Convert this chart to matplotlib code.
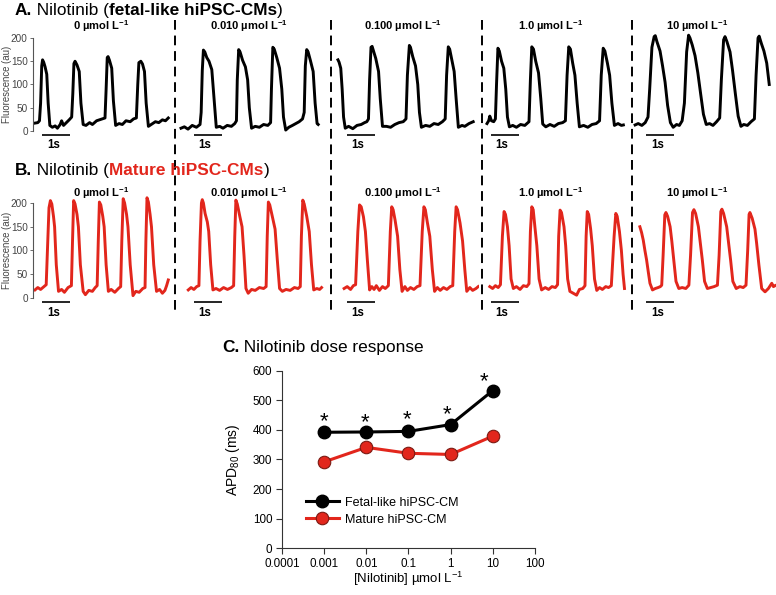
import numpy as np
import matplotlib.pyplot as plt
from matplotlib.lines import Line2D
from matplotlib.ticker import NullLocator
from matplotlib.transforms import offset_copy

plt.rcParams['font.family'] = ['Liberation Sans', 'DejaVu Sans']
plt.rcParams['mathtext.default'] = 'regular'

W, H = 776, 595
RED = '#E2261C'

dose_titles = ['0 µmol L$^{-1}$', '0.010 µmol L$^{-1}$', '0.100 µmol L$^{-1}$',
               '1.0 µmol L$^{-1}$', '10 µmol L$^{-1}$']

# optical traces, (time s, fluorescence au)
fetal_0 = [(0, 17), (0.1, 18), (0.16, 22), (0.2, 60), (0.24, 140), (0.27, 153), (0.31, 148), (0.36, 138),
           (0.42, 122), (0.47, 60), (0.53, 12), (0.62, 8), (0.72, 11), (0.8, 6), (0.9, 14), (0.95, 22),
           (1.02, 12), (1.12, 18), (1.22, 24), (1.31, 30), (1.35, 80), (1.39, 145), (1.43, 150), (1.5, 142),
           (1.58, 128), (1.64, 60), (1.72, 14), (1.82, 12), (1.95, 18), (2.05, 14), (2.2, 22), (2.35, 25),
           (2.5, 28), (2.54, 90), (2.58, 158), (2.61, 160), (2.66, 152), (2.74, 135), (2.8, 65), (2.88, 12),
           (3.0, 16), (3.12, 14), (3.25, 22), (3.4, 20), (3.52, 26), (3.62, 28), (3.67, 100), (3.71, 147),
           (3.78, 150), (3.84, 144), (3.91, 128), (3.97, 60), (4.05, 10), (4.15, 14), (4.3, 20), (4.42, 18),
           (4.55, 24), (4.66, 22), (4.76, 28)]
fetal_001 = [(0, 6), (0.12, 9), (0.25, 4), (0.4, 12), (0.55, 8), (0.68, 14), (0.72, 40), (0.76, 130),
             (0.8, 174), (0.85, 170), (0.92, 158), (1.0, 150), (1.1, 132), (1.18, 70), (1.26, 8), (1.38, 10),
             (1.5, 6), (1.65, 12), (1.8, 10), (1.92, 16), (1.98, 22), (2.01, 110), (2.06, 175), (2.11, 170),
             (2.2, 152), (2.3, 138), (2.38, 110), (2.44, 50), (2.52, 6), (2.65, 10), (2.8, 8), (2.95, 14),
             (3.1, 12), (3.2, 18), (3.23, 90), (3.28, 180), (3.33, 176), (3.42, 158), (3.52, 135), (3.6, 90),
             (3.66, 30), (3.74, 2), (3.85, 8), (3.98, 12), (4.1, 16), (4.22, 20), (4.34, 26), (4.4, 40),
             (4.44, 140), (4.49, 175), (4.54, 170), (4.62, 152), (4.72, 128), (4.79, 60), (4.86, 16), (4.9, 14)]
fetal_01 = [(0.07, 153), (0.11, 148), (0.17, 135), (0.22, 90), (0.27, 30), (0.33, 6), (0.45, 10), (0.6, 5),
            (0.75, 12), (0.9, 14), (1.02, 18), (1.1, 20), (1.16, 26), (1.2, 110), (1.25, 180), (1.29, 182),
            (1.34, 172), (1.42, 156), (1.52, 128), (1.58, 70), (1.66, 10), (1.8, 10), (1.95, 8), (2.1, 14),
            (2.25, 18), (2.4, 20), (2.5, 26), (2.55, 120), (2.62, 184), (2.66, 180), (2.74, 160), (2.84, 140),
            (2.92, 100), (2.98, 40), (3.05, 8), (3.2, 12), (3.35, 10), (3.5, 16), (3.65, 14), (3.8, 20),
            (3.9, 26), (3.95, 120), (4.01, 181), (4.06, 176), (4.13, 155), (4.22, 128), (4.29, 70), (4.37, 8),
            (4.5, 12), (4.6, 10), (4.75, 16), (4.9, 20)]
fetal_1 = [(0, 16), (0.06, 22), (0.1, 32), (0.16, 22), (0.24, 20), (0.3, 26), (0.34, 100), (0.39, 178),
           (0.44, 172), (0.52, 150), (0.6, 135), (0.67, 90), (0.73, 30), (0.8, 9), (0.92, 12), (1.05, 8),
           (1.2, 14), (1.35, 12), (1.5, 20), (1.55, 110), (1.6, 181), (1.66, 176), (1.74, 150), (1.84, 125),
           (1.92, 70), (1.99, 15), (2.1, 9), (2.25, 14), (2.4, 10), (2.55, 16), (2.7, 18), (2.8, 22),
           (2.86, 120), (2.92, 181), (2.98, 176), (3.06, 146), (3.14, 120), (3.22, 60), (3.3, 9), (3.45, 12),
           (3.6, 8), (3.75, 14), (3.9, 16), (4.02, 22), (4.08, 120), (4.15, 178), (4.21, 172), (4.3, 146),
           (4.38, 120), (4.46, 60), (4.55, 12), (4.68, 16), (4.8, 12), (4.87, 13)]
fetal_10 = [(0.04, 13), (0.15, 16), (0.28, 12), (0.4, 18), (0.5, 30), (0.56, 90), (0.64, 180), (0.72, 203),
            (0.76, 205), (0.82, 192), (0.93, 172), (1.02, 140), (1.11, 105), (1.2, 55), (1.3, 18), (1.4, 8),
            (1.52, 14), (1.62, 12), (1.72, 22), (1.8, 60), (1.88, 170), (1.95, 206), (2.0, 200), (2.08, 185),
            (2.18, 162), (2.28, 125), (2.38, 80), (2.48, 36), (2.58, 14), (2.7, 16), (2.82, 12), (2.95, 20),
            (3.06, 28), (3.12, 110), (3.2, 196), (3.25, 203), (3.32, 192), (3.43, 170), (3.52, 130),
            (3.62, 80), (3.72, 32), (3.82, 10), (3.92, 14), (4.05, 12), (4.18, 20), (4.3, 26), (4.36, 120),
            (4.43, 200), (4.47, 204), (4.55, 188), (4.64, 172), (4.74, 146), (4.83, 100)]

mature_0 = [(0, 17), (0.1, 22), (0.2, 18), (0.32, 24), (0.4, 28), (0.45, 110), (0.5, 190), (0.55, 205),
            (0.6, 198), (0.66, 172), (0.7, 150), (0.76, 70), (0.84, 14), (0.95, 18), (1.05, 12), (1.18, 22),
            (1.3, 26), (1.34, 120), (1.38, 205), (1.43, 198), (1.5, 176), (1.55, 150), (1.62, 70), (1.72, 14),
            (1.8, 7), (1.92, 16), (2.05, 14), (2.15, 22), (2.22, 26), (2.26, 120), (2.3, 202), (2.35, 196),
            (2.42, 172), (2.47, 150), (2.54, 70), (2.62, 14), (2.72, 18), (2.85, 12), (2.98, 20), (3.06, 24),
            (3.1, 120), (3.15, 209), (3.2, 200), (3.27, 176), (3.32, 150), (3.4, 70), (3.5, 5), (3.6, 14),
            (3.72, 12), (3.85, 20), (3.93, 22), (3.96, 120), (4.0, 211), (4.05, 202), (4.11, 176), (4.16, 150),
            (4.24, 70), (4.34, 14), (4.45, 18), (4.55, 10), (4.64, 16), (4.7, 26), (4.76, 38)]
mature_001 = [(0.26, 17), (0.36, 22), (0.46, 18), (0.56, 24), (0.64, 26), (0.68, 120), (0.73, 200),
              (0.76, 207), (0.8, 200), (0.86, 178), (0.94, 160), (0.99, 140), (1.06, 70), (1.14, 17),
              (1.25, 20), (1.38, 16), (1.52, 22), (1.66, 18), (1.8, 22), (1.88, 26), (1.92, 130), (1.96, 206),
              (2.01, 198), (2.1, 172), (2.18, 150), (2.25, 90), (2.32, 20), (2.4, 10), (2.52, 18), (2.65, 16),
              (2.8, 22), (2.95, 20), (3.04, 24), (3.08, 130), (3.12, 202), (3.17, 196), (3.26, 172),
              (3.36, 145), (3.44, 80), (3.52, 20), (3.62, 14), (3.75, 18), (3.9, 16), (4.05, 22), (4.18, 20),
              (4.26, 24), (4.3, 130), (4.35, 206), (4.4, 198), (4.49, 172), (4.58, 140), (4.66, 70),
              (4.74, 17), (4.85, 20), (4.95, 18), (5.02, 22)]
mature_01 = [(0.29, 20), (0.4, 24), (0.52, 18), (0.62, 26), (0.7, 28), (0.78, 140), (0.84, 196), (0.9, 192),
             (0.98, 171), (1.05, 140), (1.12, 80), (1.2, 17), (1.28, 24), (1.36, 18), (1.44, 26), (1.55, 16),
             (1.66, 24), (1.76, 20), (1.87, 26), (1.94, 140), (1.99, 192), (2.04, 186), (2.11, 164),
             (2.2, 130), (2.28, 60), (2.36, 14), (2.46, 24), (2.55, 16), (2.66, 22), (2.78, 18), (2.9, 24),
             (3.0, 26), (3.08, 140), (3.14, 192), (3.19, 186), (3.26, 160), (3.35, 130), (3.44, 60),
             (3.52, 14), (3.62, 22), (3.72, 16), (3.84, 22), (3.96, 18), (4.08, 24), (4.17, 26), (4.24, 140),
             (4.29, 192), (4.34, 186), (4.43, 158), (4.52, 120), (4.6, 60), (4.67, 14), (4.78, 22),
             (4.88, 16), (5.0, 20), (5.08, 24)]
mature_1 = [(0.1, 24), (0.2, 20), (0.3, 26), (0.4, 22), (0.48, 28), (0.55, 130), (0.61, 182), (0.66, 176),
            (0.73, 150), (0.79, 110), (0.86, 40), (0.94, 20), (1.05, 24), (1.18, 18), (1.3, 26), (1.42, 24),
            (1.5, 30), (1.55, 140), (1.6, 192), (1.65, 186), (1.71, 150), (1.78, 110), (1.86, 40), (1.95, 17),
            (2.08, 22), (2.2, 18), (2.32, 24), (2.44, 22), (2.52, 28), (2.56, 130), (2.61, 185), (2.66, 180),
            (2.75, 150), (2.81, 110), (2.88, 40), (2.96, 14), (3.08, 10), (3.2, 6), (3.3, 18), (3.42, 20),
            (3.5, 26), (3.54, 130), (3.58, 182), (3.63, 176), (3.7, 146), (3.76, 110), (3.84, 40), (3.92, 16),
            (4.02, 22), (4.12, 18), (4.24, 24), (4.34, 22), (4.44, 26), (4.54, 130), (4.6, 178), (4.65, 172),
            (4.73, 140), (4.8, 100), (4.86, 50), (4.91, 20)]
mature_10 = [(0.21, 150), (0.27, 138), (0.33, 122), (0.39, 100), (0.45, 80), (0.51, 55), (0.57, 31),
             (0.66, 17), (0.76, 20), (0.86, 22), (0.94, 24), (0.99, 27), (1.04, 90), (1.1, 175), (1.14, 180),
             (1.2, 172), (1.29, 150), (1.35, 120), (1.42, 80), (1.5, 35), (1.6, 20), (1.72, 22), (1.85, 20),
             (1.96, 27), (2.02, 90), (2.09, 180), (2.14, 186), (2.2, 178), (2.3, 150), (2.36, 120), (2.44, 80),
             (2.52, 35), (2.62, 20), (2.74, 22), (2.86, 24), (2.98, 27), (3.04, 90), (3.1, 182), (3.14, 187),
             (3.2, 178), (3.31, 150), (3.37, 120), (3.45, 80), (3.53, 35), (3.65, 20), (3.78, 24), (3.9, 22),
             (4.0, 27), (4.06, 100), (4.11, 176), (4.14, 180), (4.22, 168), (4.32, 145), (4.38, 115),
             (4.46, 70), (4.56, 20), (4.68, 13), (4.8, 20), (4.92, 31), (4.98, 24), (5.04, 26)]

fetal_traces = [fetal_0, fetal_001, fetal_01, fetal_1, fetal_10]
mature_traces = [mature_0, mature_001, mature_01, mature_1, mature_10]
scalebar_start = [0.25, 0.46, 0.39, 0.14, 0.43]   # s, where the 1 s bar begins

# dose response
conc = [0.001, 0.01, 0.1, 1, 10]
apd_fetal = [392, 393, 395, 418, 533]
apd_mature = [292, 341, 321, 317, 379]
star_x = [0.001, 0.0095, 0.09, 0.82, 6.2]
star_y = [444, 442, 450, 467, 579]
xtick_vals = [1e-4, 1e-3, 1e-2, 1e-1, 1, 10, 100]
xtick_labels = ['0.0001', '0.001', '0.01', '0.1', '1', '10', '100']

fig = plt.figure(figsize=(W / 100, H / 100), dpi=100)


def rect(left, top, w, h):
    return [left / W, 1 - (top + h) / H, w / W, h / H]


def header(x_px, base_px, parts, size=12.4):
    r = fig.canvas.get_renderer()
    x = x_px
    for s, weight, color in parts:
        t = fig.text(x / W, 1 - base_px / H, s, fontsize=size, fontweight=weight,
                     color=color, ha='left', va='baseline')
        bb = t.get_window_extent(renderer=r)
        x = bb.x1


panel_left = [35, 181, 336, 487, 634]
title_x = [101, 249, 403, 551, 697]
dash_x = [175, 331, 482, 632]

rows = [(fetal_traces, 'black', 131, 0.465, 26, 84),
        (mature_traces, RED, 298, 0.475, 193, 250)]

for traces, col, zero_px, scale, ty, ylab_y in rows:
    y0, y1 = -40, 215
    for i, tr in enumerate(traces):
        ax = fig.add_axes(rect(panel_left[i] - 2.8, zero_px - y1 * scale, 5.2 * 28, (y1 - y0) * scale))
        ax.set_xlim(-0.1, 5.1)
        ax.set_ylim(y0, y1)
        ax.patch.set_visible(False)
        t, f = np.array(tr).T
        ax.plot(t, f, color=col, lw=2.1, solid_joinstyle='round')
        bs = scalebar_start[i]
        ax.plot([bs, bs + 1], [-9, -9], color='black', lw=1.2, solid_capstyle='butt')
        ax.text(bs + 0.4, -31, '1s', fontsize=8.3, fontweight='bold', ha='center', va='center')
        ax.set_xticks([])
        for sp in ['top', 'right', 'bottom']:
            ax.spines[sp].set_visible(False)
        if i == 0:
            ax.spines['left'].set_position(('data', -0.06))
            ax.spines['left'].set_bounds(0, 200)
            ax.spines['left'].set_color('#555555')
            ax.spines['left'].set_linewidth(0.8)
            ax.set_yticks([0, 50, 100, 150, 200])
            ax.tick_params(axis='y', length=2, width=0.6, pad=2, labelsize=7.2,
                           colors='#555555', labelcolor='#444444')
        else:
            ax.spines['left'].set_visible(False)
            ax.set_yticks([])
        fig.text(title_x[i] / W, 1 - ty / H, dose_titles[i], fontsize=8, fontweight='bold',
                 ha='center', va='center')
    fig.text(7 / W, 1 - ylab_y / H, 'Fluorescence (au)', fontsize=6.9, rotation=90,
             ha='center', va='center', color='#444444')

for x in dash_x:
    fig.add_artist(Line2D([x / W, x / W], [1 - 20 / H, 1 - 312 / H], color='black',
                          lw=1.4, ls=(0, (5, 3))))

header(15, 15, [('A.', 'bold', 'black'), (' Nilotinib (', 'normal', 'black'),
                ('fetal-like hiPSC-CMs', 'bold', 'black'), (')', 'normal', 'black')])
header(15, 175, [('B.', 'bold', 'black'), (' Nilotinib (', 'normal', 'black'),
                 ('Mature hiPSC-CMs', 'bold', RED), (')', 'normal', 'black')])
header(222, 352, [('C.', 'bold', 'black'), (' Nilotinib dose response', 'normal', 'black')])

# C. dose response
ax = fig.add_axes(rect(282, 370.7, 253, 177.6))
ax.set_xscale('log')
ax.plot(conc, apd_fetal, '-o', color='black', lw=2.2, ms=9, mec='black',
        label='Fetal-like hiPSC-CM', zorder=3, clip_on=False)
ax.plot(conc, apd_mature, '-o', color=RED, lw=2.2, ms=9, mfc=RED, mec='#7a1a12', mew=0.8,
        label='Mature hiPSC-CM', zorder=3, clip_on=False)
st = offset_copy(ax.transData, fig=fig, y=-5, units='dots')
for sx, sy in zip(star_x, star_y):
    ax.text(sx, sy, '*', transform=st, fontsize=16, ha='center', va='center')
ax.set_xlim(1e-4, 1e2)
ax.set_ylim(0, 600)
ax.set_xticks(xtick_vals)
ax.set_xticklabels(xtick_labels)
ax.xaxis.set_minor_locator(NullLocator())
ax.set_yticks(range(0, 601, 100))
for sp in ['top', 'right']:
    ax.spines[sp].set_visible(False)
for sp in ['left', 'bottom']:
    ax.spines[sp].set_linewidth(0.8)
    ax.spines[sp].set_color('#333333')
ax.tick_params(length=4, width=0.8, pad=3, labelsize=8.4, color='#333333')
ax.set_ylabel('APD$_{80}$ (ms)', fontsize=10)
ax.yaxis.set_label_coords(-0.16, 0.5)
ax.set_xlabel('[Nilotinib] µmol L$^{-1}$', fontsize=9.5)
ax.xaxis.set_label_coords(0.5, -0.12)
ax.legend(loc='upper left', bbox_to_anchor=(0.095, 0.29), frameon=False, fontsize=9,
          handlelength=2.6, handletextpad=0.55, labelspacing=0.4, borderpad=0, borderaxespad=0)

fig.savefig('out.png', dpi=100)
